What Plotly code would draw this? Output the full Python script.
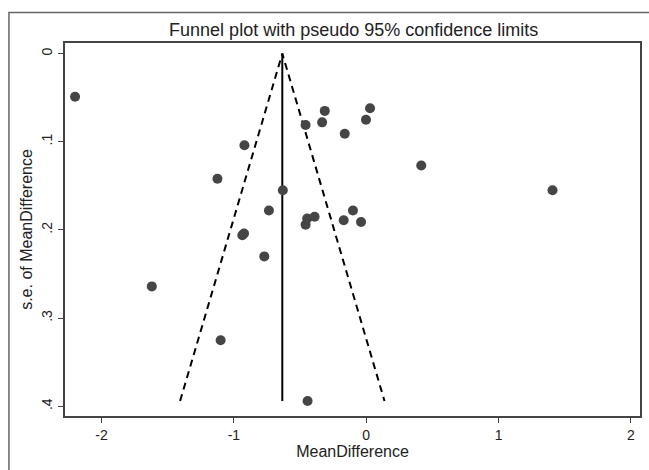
import plotly.graph_objects as go

# Study estimates (mean difference) and their standard errors
mean_diff = [-2.20, -1.62, -1.124, -1.10, -0.936, -0.923, -0.92, -0.77, -0.735, -0.63,
             -0.458, -0.446, -0.458, -0.443, -0.39, -0.333, -0.313, -0.17, -0.162, -0.10,
             -0.039, -0.0015, 0.029, 0.416, 1.408]
se = [0.049, 0.264, 0.142, 0.325, 0.206, 0.204, 0.104, 0.230, 0.178, 0.155,
      0.081, 0.187, 0.194, 0.394, 0.185, 0.078, 0.065, 0.189, 0.091, 0.178,
      0.191, 0.075, 0.062, 0.127, 0.155]

pooled = -0.634
se_max = 0.394
z = 1.96

x_ticks = [-2, -1, 0, 1, 2]
x_ticklabels = ["-2", "-1", "0", "1", "2"]
y_ticks = [0, 0.1, 0.2, 0.3, 0.4]
y_ticklabels = ["0", ".1", ".2", ".3", ".4"]

FONT = "Liberation Sans, Arial, sans-serif"

fig = go.Figure()

# pseudo 95% confidence limits
fig.add_trace(go.Scatter(
    x=[pooled - z * se_max, pooled, pooled + z * se_max],
    y=[se_max, 0, se_max],
    mode="lines",
    line=dict(color="black", width=2, dash="7px,5px"),
    hoverinfo="skip", showlegend=False))

# pooled estimate line
fig.add_trace(go.Scatter(
    x=[pooled, pooled], y=[0, se_max],
    mode="lines", line=dict(color="black", width=2),
    hoverinfo="skip", showlegend=False))

# studies
fig.add_trace(go.Scatter(
    x=mean_diff, y=se, mode="markers",
    marker=dict(color="#454545", size=10, line=dict(width=0)),
    showlegend=False))

fig.update_layout(
    width=649, height=470,
    margin=dict(l=65, r=6.5, t=42.7, b=54),
    paper_bgcolor="white", plot_bgcolor="white",
    font=dict(family=FONT, color="#222", size=14),
    title=dict(text="Funnel plot with pseudo 95% confidence limits",
               x=353.7 / 649, xanchor="center", xref="container",
               y=1 - 30 / 470, yanchor="middle", yref="container",
               font=dict(size=18, color="#222", family=FONT)),
    xaxis=dict(range=[-2.276, 2.069], tickvals=x_ticks, ticktext=x_ticklabels,
               showgrid=False, zeroline=False, showline=True, mirror=True,
               linecolor="#444", linewidth=2, ticks="outside", ticklen=5,
               tickcolor="#444", tickwidth=1, tickfont=dict(size=14),
               title=dict(text="MeanDifference", standoff=2, font=dict(size=16))),
    yaxis=dict(range=[0.411, -0.012], tickvals=y_ticks, ticktext=y_ticklabels,
               showgrid=False, zeroline=False, showline=True, mirror=True,
               linecolor="#444", linewidth=2, ticks="outside", ticklen=5,
               tickcolor="#444", tickwidth=1, tickangle=-90, tickfont=dict(size=14),
               title=dict(text="s.e. of MeanDifference", standoff=3, font=dict(size=16))),
    shapes=[dict(type="rect", xref="paper", yref="paper",
                 x0=-0.0975, x1=1.3, y0=-0.5, y1=1.0815,
                 line=dict(color="#666", width=1.5), fillcolor="rgba(0,0,0,0)",
                 layer="below")],
)

fig.write_html("out.html")
